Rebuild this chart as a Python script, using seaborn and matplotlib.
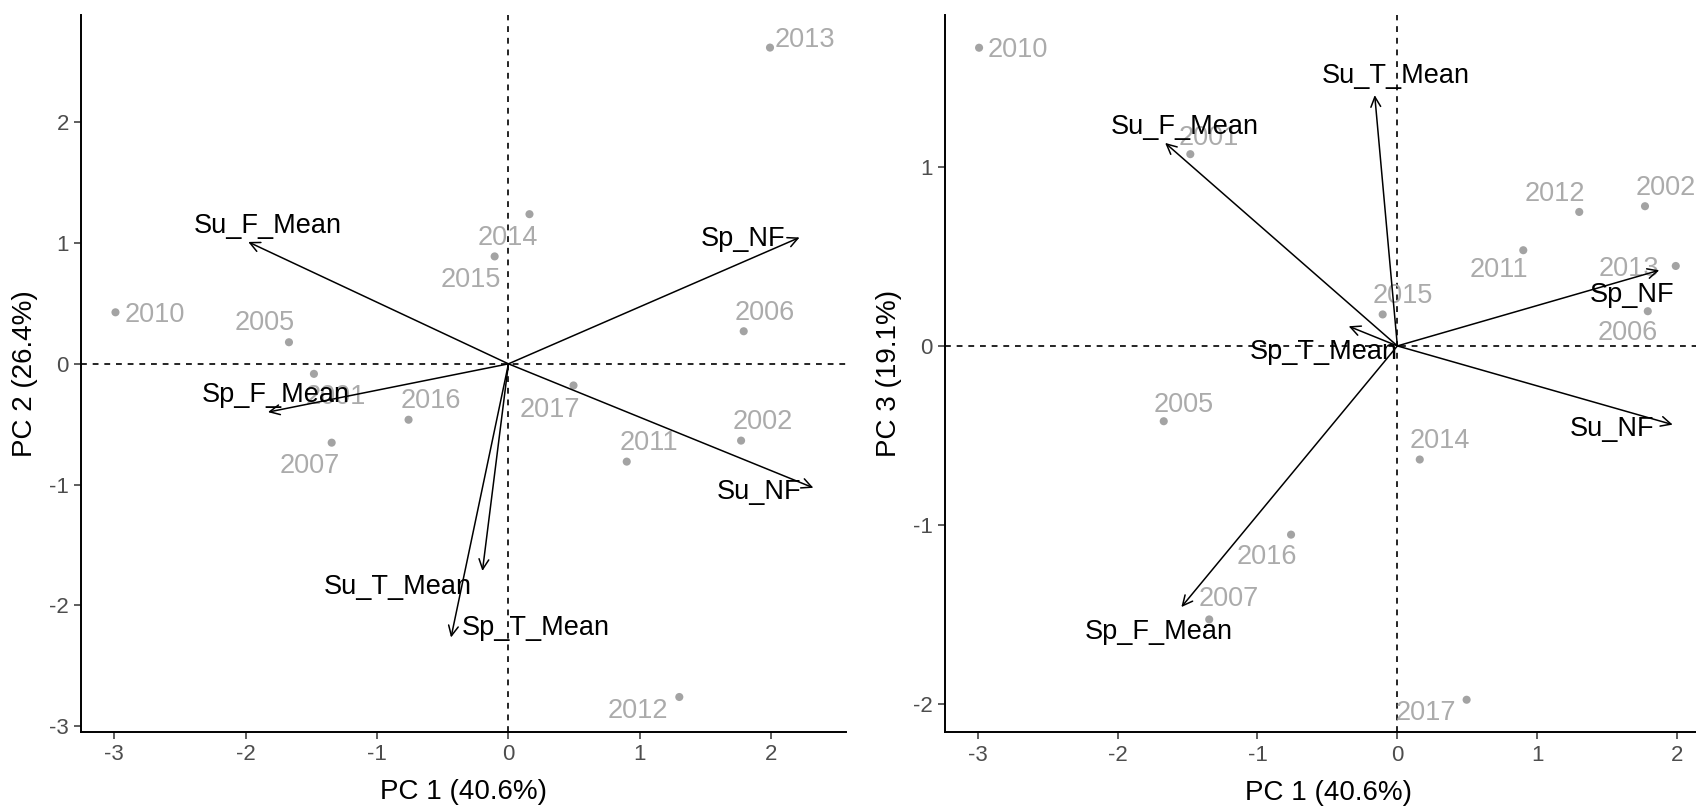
import matplotlib
matplotlib.use("Agg")
import matplotlib.pyplot as plt
import numpy as np
import pandas as pd
import seaborn as sns

# ---- PCA scores per year ----
years = ["2001", "2002", "2005", "2006", "2007", "2010", "2011",
         "2012", "2013", "2014", "2015", "2016", "2017"]
pc1 = [-1.48, 1.77, -1.67, 1.79, -1.345, -2.99, 0.90,
       1.30, 1.99, 0.16, -0.105, -0.76, 0.495]
pc2 = [-0.083, -0.636, 0.179, 0.27, -0.653, 0.427, -0.81,
       -2.76, 2.62, 1.24, 0.89, -0.463, -0.179]
pc3 = [1.072, 0.781, -0.421, 0.194, -1.529, 1.667, 0.535,
       0.749, 0.447, -0.635, 0.176, -1.055, -1.978]

# ---- variable loadings (arrow tips) ----
variables = ["Su_F_Mean", "Sp_NF", "Sp_F_Mean", "Su_NF", "Su_T_Mean", "Sp_T_Mean"]
load12_x = [-1.98, 2.215, -1.83, 2.32, -0.198, -0.437]
load12_y = [1.01, 1.047, -0.40, -1.027, -1.716, -2.267]
load13_x = [-1.66, 1.872, -1.544, 1.968, -0.162, -0.348]
load13_y = [1.135, 0.423, -1.46, -0.44, 1.402, 0.11]

pc_labels = ["PC 1 (40.6%)", "PC 2 (26.4%)", "PC 3 (19.1%)"]

scores = pd.DataFrame({"year": years, "PC1": pc1, "PC2": pc2, "PC3": pc3})

# label offsets in pixels (dx, dy) relative to each point / arrow tip
year_off_12 = {"2013": (35, 8), "2014": (-22, -24), "2015": (-24, -24),
               "2010": (39, -3), "2005": (-24, 19), "2006": (21, 18),
               "2001": (22, -23), "2016": (22, 19), "2017": (-24, -25),
               "2007": (-22, -23), "2011": (22, 19), "2002": (22, 19),
               "2012": (-41, -14)}
year_off_13 = {"2010": (39, -2), "2001": (18, 16), "2012": (-24, 18),
               "2002": (21, 18), "2011": (-24, -20), "2013": (-47, -3),
               "2015": (20, 18), "2006": (-20, -22), "2005": (20, 16),
               "2014": (20, 19), "2016": (-24, -22), "2007": (20, 20),
               "2017": (-41, -13)}
var_off_12 = {"Su_F_Mean": (20, 16), "Sp_NF": (-57, -2), "Sp_F_Mean": (8, 17),
              "Su_NF": (-54, -4), "Su_T_Mean": (-85, -16), "Sp_T_Mean": (85, 9)}
var_off_13 = {"Su_T_Mean": (21, 19), "Su_F_Mean": (20, 16), "Sp_NF": (-27, -25),
              "Sp_T_Mean": (-25, -26), "Su_NF": (-61, -4), "Sp_F_Mean": (-23, -25)}

sns.set_style("ticks")
plt.rcParams["font.family"] = ["Liberation Sans", "DejaVu Sans"]

W, H = 1696, 806
fig = plt.figure(figsize=(W / 100, H / 100), dpi=100)


def px_axes(left, right, top, bottom):
    return fig.add_axes([left / W, (H - bottom) / H, (right - left) / W, (bottom - top) / H])


ax1 = px_axes(81.3, 845.7, 15, 732)
ax2 = px_axes(945.5, 1712, 15, 732.3)

point_col = "#A3A3A3"
label_col = "#ABABAB"


def draw_biplot(ax, ycol, lx, ly, year_off, var_off, xlim, ylim, yticks, ylabel):
    ax.axhline(0, color="black", lw=1.2, ls=(0, (3.5, 3.5)), zorder=1)
    ax.axvline(0, color="black", lw=1.2, ls=(0, (3.5, 3.5)), zorder=1)
    sns.scatterplot(data=scores, x="PC1", y=ycol, ax=ax, color=point_col,
                    s=34, edgecolor="none", zorder=3, legend=False)
    for yr, xv, yv in zip(scores["year"], scores["PC1"], scores[ycol]):
        dx, dy = year_off[yr]
        ax.annotate(yr, (xv, yv), xytext=(dx, dy), textcoords="offset pixels",
                    ha="center", va="center", fontsize=19.5, color=label_col, zorder=2)
    for name, xv, yv in zip(variables, lx, ly):
        ax.annotate("", xy=(xv, yv), xytext=(0, 0),
                    arrowprops=dict(arrowstyle="->,head_length=0.45,head_width=0.22",
                                    color="black", lw=1.1, shrinkA=0, shrinkB=0,
                                    mutation_scale=16), zorder=4)
        dx, dy = var_off[name]
        ax.annotate(name, (xv, yv), xytext=(dx, dy), textcoords="offset pixels",
                    ha="center", va="center", fontsize=19.5, color="black", zorder=5)
    ax.set_xlim(*xlim)
    ax.set_ylim(*ylim)
    ax.set_xticks([-3, -2, -1, 0, 1, 2])
    ax.set_yticks(yticks)
    ax.set_xticklabels([str(t) for t in [-3, -2, -1, 0, 1, 2]])
    ax.set_yticklabels([str(t) for t in yticks])
    ax.set_xlabel(pc_labels[0], fontsize=20, color="black", labelpad=10)
    ax.set_ylabel(ylabel, fontsize=20, color="black", labelpad=8)
    ax.tick_params(axis="both", labelsize=16, labelcolor="#4D4D4D", color="#333333",
                   length=5, width=1.1, pad=4)
    sns.despine(ax=ax)
    for sp in ("left", "bottom"):
        ax.spines[sp].set_linewidth(1.4)
        ax.spines[sp].set_color("black")
    ax.set_facecolor("white")


draw_biplot(ax1, "PC2", load12_x, load12_y, year_off_12, var_off_12,
            (-3.25, 2.566), (-3.05, 2.89), [-3, -2, -1, 0, 1, 2], pc_labels[1])
draw_biplot(ax2, "PC3", load13_x, load13_y, year_off_13, var_off_13,
            (-3.23, 2.249), (-2.16, 1.85), [-2, -1, 0, 1], pc_labels[2])

fig.savefig("out.png", dpi=100, facecolor="white")
